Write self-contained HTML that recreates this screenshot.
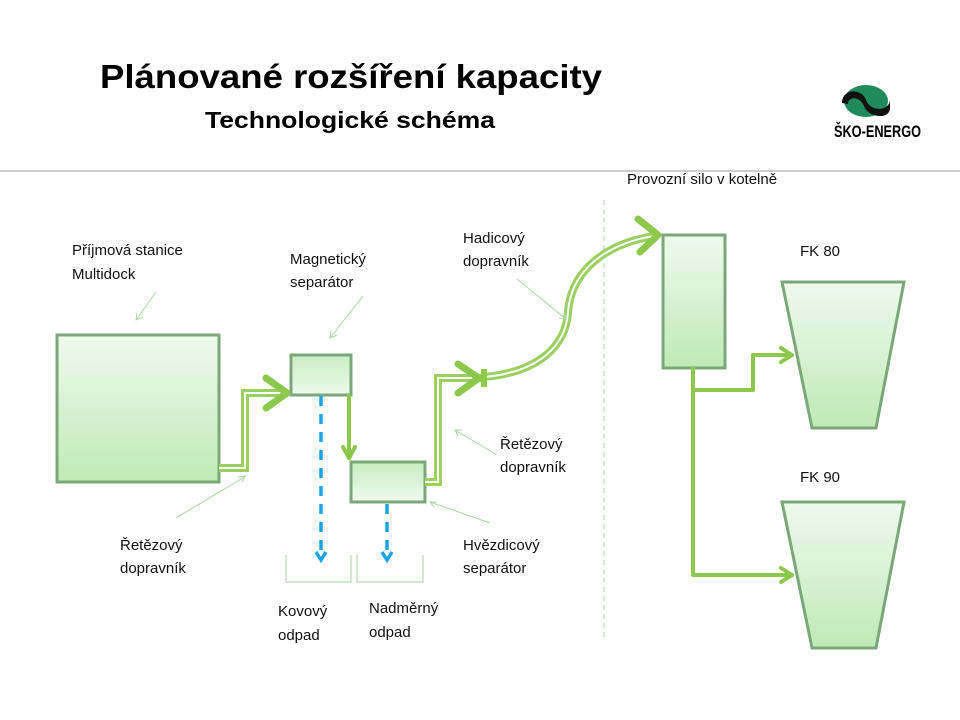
<!DOCTYPE html>
<html><head><meta charset="utf-8"><style>
html,body{margin:0;padding:0;background:#fff;width:960px;height:720px;overflow:hidden}
text{font-family:"Liberation Sans",sans-serif;}
</style></head><body>
<svg width="960" height="720" viewBox="0 0 960 720" xmlns="http://www.w3.org/2000/svg">
<defs>
<linearGradient id="g" x1="0" y1="0" x2="0" y2="1">
<stop offset="0" stop-color="#c8eec0"/><stop offset="1" stop-color="#eefaee"/></linearGradient>
<linearGradient id="g2" x1="0" y1="0" x2="0" y2="1">
<stop offset="0" stop-color="#eefaee"/><stop offset="1" stop-color="#bfeab5"/></linearGradient>
</defs>
<text x="100" y="88" font-size="33" font-weight="bold" textLength="502" lengthAdjust="spacingAndGlyphs">Plánované rozšíření kapacity</text>
<text x="205" y="128" font-size="23" font-weight="bold" textLength="290" lengthAdjust="spacingAndGlyphs">Technologické schéma</text>
<!-- logo -->
<g>
<ellipse cx="866" cy="101" rx="22" ry="16" fill="#1f8a5a"/>
<path d="M842 103 C842 88 862 88 866 100 C870 112 890 112 890 99 L890 108 C890 120 868 118 864 106 C860 96 848 96 848 104 Z" fill="#111"/>
<text x="834" y="137" font-size="17" font-weight="bold" textLength="87" lengthAdjust="spacingAndGlyphs">ŠKO-ENERGO</text>
</g>
<line x1="0" y1="171" x2="960" y2="171" stroke="#999" stroke-width="1"/>
<line x1="604" y1="200" x2="604" y2="640" stroke="#a8d8a0" stroke-width="1" stroke-dasharray="5,4"/>

<!-- boxes -->
<rect x="57" y="335" width="162" height="147" fill="url(#g2)" stroke="#7aa878" stroke-width="3"/>
<rect x="291" y="355" width="60" height="40" fill="url(#g)" stroke="#7aa878" stroke-width="3"/>
<rect x="351" y="462" width="74" height="40" fill="url(#g)" stroke="#7aa878" stroke-width="3"/>
<rect x="663" y="235" width="62" height="133" fill="url(#g2)" stroke="#7aa878" stroke-width="3"/>
<polygon points="782,282 904,282 876,428 812,428" fill="url(#g2)" stroke="#7aa878" stroke-width="3"/>
<polygon points="782,502 904,502 876,648 812,648" fill="url(#g2)" stroke="#7aa878" stroke-width="3"/>

<!-- conveyors -->
<g fill="none" stroke-linejoin="miter">
<path d="M219,468 H245 V393 H282" stroke="#9ad060" stroke-width="8"/>
<path d="M219,468 H245 V393 H282" stroke="#fff" stroke-width="2"/>
<path d="M425,482 H438 V378 H482" stroke="#9ad060" stroke-width="8"/>
<path d="M425,482 H438 V378 H482" stroke="#fff" stroke-width="2"/>
<path d="M484,377 C540,372 566,345 568,312 C572,262 620,240 656,236" stroke="#9ad060" stroke-width="8"/>
<path d="M484,377 C540,372 566,345 568,312 C572,262 620,240 656,236" stroke="#fff" stroke-width="2"/>
</g>
<g fill="none" stroke="#8cc84b" stroke-width="7" stroke-linecap="round" stroke-linejoin="round">
<polyline points="266,378 287,393 266,408"/>
<polyline points="458,364 479,378 458,393"/>
<polyline points="638,219 658,235 640,252"/>
</g>
<rect x="481" y="369" width="6" height="18" fill="#8cc84b"/>
<g fill="none" stroke="#8cc84b" stroke-width="4" stroke-linejoin="round" stroke-linecap="round">
<path d="M349,395 V458"/>
<polyline points="343,447 349,458 355,447"/>
<path d="M693,368 V575 H792"/>
<polyline points="781,568 792,575 781,582"/>
<path d="M693,390 H753 V355 H792"/>
<polyline points="781,348 792,355 781,362"/>
</g>
<!-- blue dashed -->
<g stroke="#1aa6e6" stroke-width="3.5" fill="none">
<line x1="321" y1="396" x2="321" y2="556" stroke-dasharray="10,8"/>
<polyline points="316,552 321,560 326,552"/>
<line x1="387" y1="504" x2="387" y2="556" stroke-dasharray="10,8"/>
<polyline points="382,552 387,560 392,552"/>
</g>
<!-- brackets -->
<g fill="none" stroke="#a8d0a0" stroke-width="1">
<polyline points="286,555 286,582 351,582 351,555"/>
<polyline points="357,555 357,582 423,582 423,555"/>
</g>
<!-- leaders -->
<g stroke="#a8d8a0" stroke-width="1" fill="none">
<line x1="156" y1="292" x2="136" y2="320"/><polyline points="137,313 136,320 143,317"/>
<line x1="363" y1="296" x2="330" y2="338"/><polyline points="331,331 330,338 337,335"/>
<line x1="246" y1="476" x2="176" y2="518"/><polyline points="238,477 245,476 242,482"/>
<line x1="497" y1="455" x2="455" y2="430"/><polyline points="462,430 455,430 458,436"/>
<line x1="490" y1="523" x2="430" y2="502"/><polyline points="437,502 430,502 434,507"/>
<line x1="517" y1="279" x2="566" y2="319"/><polyline points="559,318 566,319 564,312"/>
</g>
<g font-size="15" fill="#111">
<text x="72" y="255">Příjmová stanice</text>
<text x="72" y="279">Multidock</text>
<text x="290" y="264">Magnetický</text>
<text x="290" y="287">separátor</text>
<text x="463" y="243">Hadicový</text>
<text x="463" y="266">dopravník</text>
<text x="627" y="184">Provozní silo v kotelně</text>
<text x="800" y="256">FK 80</text>
<text x="800" y="482">FK 90</text>
<text x="500" y="449">Řetězový</text>
<text x="500" y="472">dopravník</text>
<text x="120" y="550">Řetězový</text>
<text x="120" y="573">dopravník</text>
<text x="463" y="550">Hvězdicový</text>
<text x="463" y="573">separátor</text>
<text x="278" y="616">Kovový</text>
<text x="278" y="640">odpad</text>
<text x="369" y="613">Nadměrný</text>
<text x="369" y="637">odpad</text>
</g>
</svg>
</body></html>
